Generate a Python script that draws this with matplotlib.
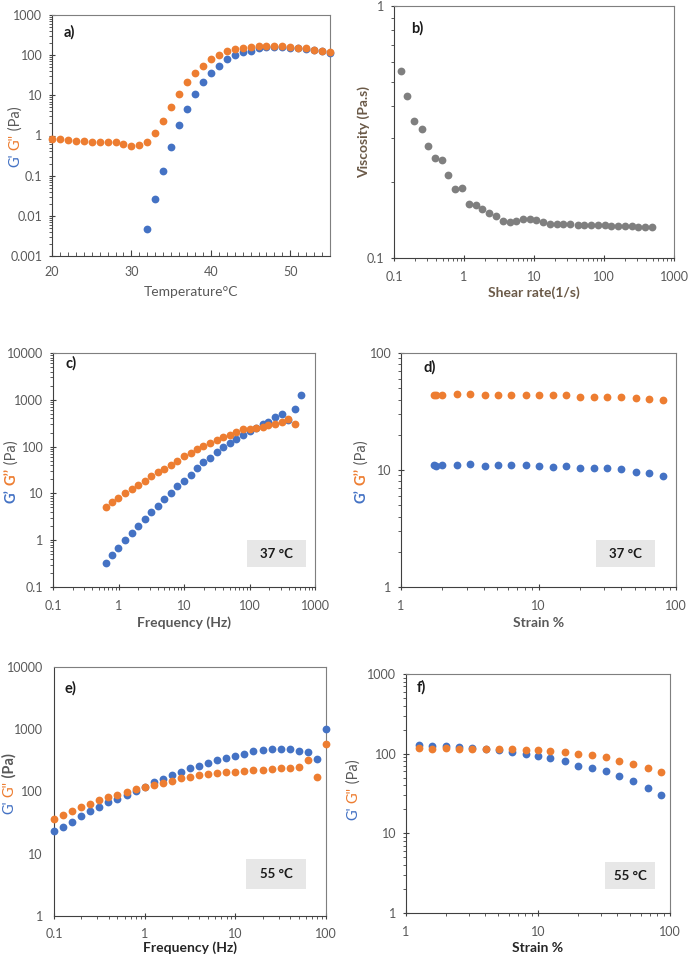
import numpy as np
import matplotlib.pyplot as plt
from matplotlib.ticker import LogLocator, NullFormatter, MultipleLocator, FuncFormatter

plt.rcParams['font.family'] = ['Lato', 'DejaVu Sans']

BLUE = '#4472C4'
ORANGE = '#ED7D31'
GREY = '#595959'

# a) temperature sweep
temp = [20, 21, 22, 23, 24, 25, 26, 27, 28, 29, 30, 31, 32, 33, 34, 35, 36, 37,
        38, 39, 40, 41, 42, 43, 44, 45, 46, 47, 48, 49, 50, 51, 52, 53, 54, 55]
a_gpp = [0.82, 0.8, 0.76, 0.75, 0.71, 0.7, 0.68, 0.68, 0.68, 0.6, 0.54, 0.57,
         0.68, 1.15, 2.3, 5.0, 10.7, 21, 35, 55, 80, 102, 126, 145, 152, 160,
         168, 172, 170, 165, 163, 155, 148, 138, 128, 118]
temp_gp = [32, 33, 34, 35, 36, 37, 38, 39, 40, 41, 42, 43, 44, 45, 46, 47, 48,
           49, 50, 51, 52, 53, 54, 55]
a_gp = [0.0048, 0.0265, 0.132, 0.53, 1.85, 4.7, 10.7, 21, 35, 55, 80, 100, 117,
        130, 150, 160, 160, 158, 155, 150, 145, 138, 128, 112]

# b) flow curve
shear = [0.127, 0.155, 0.195, 0.248, 0.31, 0.38, 0.485, 0.6, 0.75, 0.93, 1.18,
         1.49, 1.81, 2.3, 2.9, 3.6, 4.5, 5.5, 6.9, 8.7, 10.7, 13.5, 17, 21, 26,
         33, 42, 52, 65, 82, 102, 127, 160, 200, 250, 310, 390, 490]
visc = [0.552, 0.44, 0.351, 0.326, 0.279, 0.249, 0.244, 0.214, 0.187, 0.19,
        0.164, 0.163, 0.157, 0.151, 0.1465, 0.140, 0.139, 0.140, 0.143, 0.143,
        0.142, 0.139, 0.137, 0.137, 0.136, 0.136, 0.135, 0.135, 0.135, 0.135,
        0.135, 0.134, 0.134, 0.134, 0.134, 0.133, 0.133, 0.133]

# c) frequency sweep 37 C
c_freq = [0.64, 0.8, 0.98, 1.27, 1.59, 2.0, 2.5, 3.15, 4.0, 5.0, 6.3, 7.9, 10,
          12.6, 15.8, 19.8, 25, 31.5, 39.6, 49.8, 62.7, 79, 100, 124, 158, 195,
          246, 312, 390, 500]
c_gp = [0.33, 0.49, 0.67, 1.0, 1.43, 2.0, 2.8, 4.0, 5.3, 7.5, 10.3, 14.5, 18.6,
        25, 35, 46, 58, 77, 98, 120, 148, 181, 217, 250, 310, 335, 420, 490,
        370, 650]
c_gpp = [5.0, 6.5, 7.9, 10.3, 12.3, 15.2, 18.5, 23.3, 28, 34, 41, 50, 62, 73,
         89, 102, 120, 139, 161, 181, 207, 232, 236, 255, 265, 290, 297, 335,
         385, 300]
c_freq_last = [620]
c_gp_last = [1250]

# d) strain sweep 37 C
d_strain = [1.74, 1.81, 1.99, 2.55, 3.17, 4.06, 5.06, 6.35, 8.09, 10.0, 12.7,
            15.9, 20.0, 25.3, 31.4, 39.8, 51, 64, 80]
d_gp = [11.0, 10.9, 11.0, 11.0, 11.2, 10.9, 11.1, 11.0, 11.0, 10.8, 10.6, 10.8,
        10.4, 10.4, 10.4, 10.1, 9.7, 9.4, 8.9]
d_gpp = [44, 44, 44, 45, 45, 43.5, 44, 44, 44, 44, 43.5, 44, 42.4, 42.4, 42.4,
         42.4, 41.6, 40.7, 40]

# e) frequency sweep 55 C
e_freq = [0.1, 0.126, 0.158, 0.2, 0.251, 0.316, 0.398, 0.501, 0.631, 0.794, 1,
          1.26, 1.58, 2, 2.51, 3.16, 3.98, 5.01, 6.31, 7.94, 10, 12.6, 15.8, 20,
          25.1, 31.6, 39.8, 50.1, 63.1, 79.4, 100]
e_gp = [23.2, 27.2, 32.8, 40, 48, 56.6, 67, 75, 88, 101, 119, 140, 156, 181,
        205, 238, 256, 286, 320, 349, 371, 405, 442, 470, 488, 488, 488, 452,
        430, 336, 1000]
e_gpp = [36, 42.6, 49.4, 56, 62.5, 72.5, 82, 88.4, 97.5, 108, 119, 128, 138,
         149, 162, 168, 181, 188, 195, 202, 207, 210, 218, 221, 229, 238, 238,
         247, 320, 168, 588]

# f) strain sweep 55 C
f_strain = [1.26, 1.58, 2.0, 2.52, 3.18, 4.03, 5.05, 6.4, 8.1, 10, 12.4, 15.9,
            20.2, 25.6, 32.6, 41, 52, 68, 86]
f_gp = [130, 126, 126, 122, 119, 115.5, 111, 105, 99, 93.5, 88, 81, 71, 66,
        60, 52, 45, 37.4, 30.6]
f_gpp = [119, 115.5, 119, 115.5, 115.5, 115.5, 115.5, 115.5, 112, 112, 109,
         106, 99, 96, 90.8, 81, 74.2, 66.1, 58.3]

W, H = 688, 957
fig = plt.figure(figsize=(W / 100, H / 100), dpi=100)


def make_ax(l, r, t, b):
    ax = fig.add_axes([l / W, 1 - b / H, (r - l) / W, (b - t) / H])
    for s in ax.spines.values():
        s.set_color('#7f7f7f')
        s.set_linewidth(0.8)
    ax.spines['left'].set_color('#404040')
    ax.spines['bottom'].set_color('#404040')
    ax.tick_params(which='both', colors='#404040', labelcolor=GREY,
                   labelsize=9, top=False, right=False)
    ax.tick_params(which='major', length=4, direction='inout')
    ax.tick_params(which='minor', length=2.5, direction='out')
    ax.tick_params(axis='x', pad=7)
    ax.tick_params(axis='y', pad=5)
    return ax


def plain(v, pos):
    return '{:g}'.format(v)


def log_axis(axis):
    axis.set_major_locator(LogLocator(base=10))
    axis.set_minor_locator(LogLocator(base=10, subs=np.arange(2, 10)))
    axis.set_major_formatter(FuncFormatter(plain))
    axis.set_minor_formatter(NullFormatter())


def dots(ax, x, y, color):
    ax.plot(x, y, 'o', color=color, markersize=5.6, markeredgewidth=0,
            zorder=3, clip_on=False)


def glabel(ax, x, y, parts, size=10.5):
    prev = None
    for txt, col, w in parts:
        if prev is None:
            prev = ax.text(x, y, txt, color=col, fontsize=size, fontweight=w,
                           rotation=90, ha='center', va='bottom',
                           transform=ax.transAxes)
        else:
            prev = ax.annotate(txt, xycoords=prev, xy=(0.5, 1), color=col,
                               fontsize=size, fontweight=w, rotation=90,
                               ha='center', va='bottom')


def xlab(ax, txt, off, h, color=GREY, w='normal'):
    ax.text(0.5, -off / h, txt, transform=ax.transAxes, ha='center',
            va='center', fontsize=10, color=color, fontweight=w)


def panel(ax, txt, x, y):
    ax.text(x, y, txt, transform=ax.transAxes, fontsize=10.5, fontweight='bold',
            color='#1a1a1a', ha='left', va='center')


def tbox(ax, txt, x0, x1, y0, y1):
    ax.add_patch(plt.Rectangle((x0, y0), x1 - x0, y1 - y0, transform=ax.transAxes,
                               facecolor='#e7e7e7', edgecolor='none', zorder=4))
    ax.text((x0 + x1) / 2, (y0 + y1) / 2, txt, transform=ax.transAxes,
            ha='center', va='center', fontsize=9.5, fontweight='bold',
            color='#1a1a1a', zorder=5)


# a)
ax = make_ax(52, 330, 15, 256)
dots(ax, temp_gp, a_gp, BLUE)
dots(ax, temp, a_gpp, ORANGE)
ax.set_yscale('log')
log_axis(ax.yaxis)
ax.set_ylim(0.001, 1000)
ax.set_xlim(20, 55)
ax.xaxis.set_major_locator(MultipleLocator(10))
ax.xaxis.set_minor_locator(MultipleLocator(1))
ax.tick_params(axis='x', which='minor', direction='in', length=3)
ax.tick_params(axis='x', which='major', direction='in', length=4)
panel(ax, 'a)', 0.043, 0.93)
glabel(ax, -0.13, 0.37, [("G'", BLUE, 'normal'), (' ', GREY, 'normal'),
                         ('G"', ORANGE, 'normal'), (' (Pa)', GREY, 'normal')])
xlab(ax, 'Temperature°C', 36, 241)

# b)
ax = make_ax(394, 674, 6, 258)
dots(ax, shear, visc, '#7f7f7f')
ax.set_xscale('log')
ax.set_yscale('log')
log_axis(ax.xaxis)
log_axis(ax.yaxis)
ax.set_xlim(0.1, 1000)
ax.set_ylim(0.1, 1)
panel(ax, 'b)', 0.06, 0.91)
ax.text(-0.107, 0.5, 'Viscosity (Pa.s)', transform=ax.transAxes, rotation=90,
        ha='center', va='center', fontsize=10, fontweight='bold', color='#6b5a48')
xlab(ax, 'Shear rate(1/s)', 35, 252, color='#6b5a48', w='bold')

# c)
ax = make_ax(53, 315, 353, 587)
dots(ax, c_freq, c_gp, BLUE)
dots(ax, c_freq_last, c_gp_last, BLUE)
dots(ax, c_freq, c_gpp, ORANGE)
ax.set_xscale('log')
ax.set_yscale('log')
log_axis(ax.xaxis)
log_axis(ax.yaxis)
ax.set_xlim(0.1, 1000)
ax.set_ylim(0.1, 10000)
panel(ax, 'c)', 0.046, 0.955)
tbox(ax, '37 °C', 0.74, 0.965, 0.085, 0.20)
glabel(ax, -0.16, 0.36, [('G’', BLUE, 'bold'), (' ', GREY, 'normal'),
                         ('G’’', ORANGE, 'bold'), (' (Pa)', GREY, 'normal')])
xlab(ax, 'Frequency (Hz)', 36, 234, w='bold')

# d)
ax = make_ax(401, 676, 353, 587)
dots(ax, d_strain, d_gp, BLUE)
dots(ax, d_strain, d_gpp, ORANGE)
ax.set_xscale('log')
ax.set_yscale('log')
log_axis(ax.xaxis)
log_axis(ax.yaxis)
ax.set_xlim(1, 100)
ax.set_ylim(1, 100)
panel(ax, 'd)', 0.08, 0.94)
tbox(ax, '37 °C', 0.71, 0.925, 0.085, 0.20)
glabel(ax, -0.145, 0.36, [('G’', BLUE, 'bold'), (' ', GREY, 'normal'),
                          ('G’’', ORANGE, 'bold'), (' (Pa)', GREY, 'normal')])
xlab(ax, 'Strain %', 36, 234, w='bold')

# e)
ax = make_ax(54, 326, 667, 916)
dots(ax, e_freq, e_gp, BLUE)
dots(ax, e_freq, e_gpp, ORANGE)
ax.set_xscale('log')
ax.set_yscale('log')
log_axis(ax.xaxis)
log_axis(ax.yaxis)
ax.set_xlim(0.1, 100)
ax.set_ylim(1, 10000)
ax.tick_params(axis='y', which='both', length=0, pad=8)
panel(ax, 'e)', 0.04, 0.915)
tbox(ax, '55 °C', 0.706, 0.926, 0.108, 0.229)
glabel(ax, -0.165, 0.41, [("G'", BLUE, 'normal'), (' ', GREY, 'normal'),
                          ('G"', ORANGE, 'normal'), (' (Pa)', GREY, 'bold')])
xlab(ax, 'Frequency (Hz)', 32, 249, color='#262626', w='bold')

# f)
ax = make_ax(406, 670, 674, 913)
dots(ax, f_strain, f_gp, BLUE)
dots(ax, f_strain, f_gpp, ORANGE)
ax.set_xscale('log')
ax.set_yscale('log')
log_axis(ax.xaxis)
log_axis(ax.yaxis)
ax.set_xlim(1, 100)
ax.set_ylim(1, 1000)
panel(ax, 'f)', 0.042, 0.946)
tbox(ax, '55 °C', 0.754, 0.943, 0.10, 0.213)
glabel(ax, -0.2, 0.39, [("G'", BLUE, 'normal'), (' ', GREY, 'normal'),
                        ('G"', ORANGE, 'normal'), (' (Pa)', GREY, 'normal')])
xlab(ax, 'Strain %', 35, 239, color='#262626', w='bold')

fig.savefig('out.png', dpi=100, facecolor='white')
